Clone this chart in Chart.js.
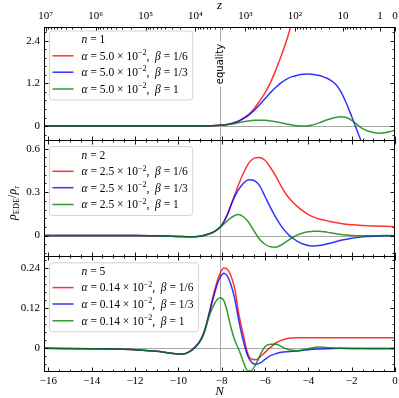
<!DOCTYPE html>
<html>
<head>
<meta charset="utf-8">
<title>EDE fraction</title>
<script src="https://cdn.jsdelivr.net/npm/chart.js@4.4.1/dist/chart.umd.min.js"></script>
<style>
  body { margin: 0; background: #fff; }
  #fig { position: relative; width: 399px; height: 398px; }
  #fig canvas { position: absolute; left: 0; }
</style>
</head>
<body>
<div id="fig">
  <canvas id="panel1" width="399" height="141" style="top:0px"></canvas>
  <canvas id="panel2" width="399" height="117" style="top:140px"></canvas>
  <canvas id="panel3" width="399" height="142" style="top:256px"></canvas>
</div>
<script>
var SERIF = '"Liberation Serif", "DejaVu Serif", serif';

// axes
var xMin = -16.2, xMax = 0;
var nEquality = -8.1;
var nTicks = [-16, -14, -12, -10, -8, -6, -4, -2, 0];
var zTicks = [1e7, 1e6, 1e5, 1e4, 1e3, 1e2, 10, 1, 0];
var zTickLabels = ['10⁷', '10⁶', '10⁵', '10⁴', '10³', '10²', '10', '1', '0'];

// legend text
var panelN = ['1', '2', '5'];
var panelAlpha = ['5.0', '2.5', '0.14'];
var betaLabels = ['1/6', '1/3', '1'];
var seriesColors = ['rgba(255,0,0,0.8)', 'rgba(0,0,255,0.8)', 'rgba(0,128,0,0.8)'];

// n = 1
var N1 = [-16.2,-14,-12,-10,-9,-8.5,-8.1,-7.75,-7.5,-7.25,-7,-6.75,-6.5,-6.25,-6,-5.75,-5.5,-5.25,-5,-4.75,-4.5,-4.25,-4,-3.75,-3.5,-3.25,-3,-2.75,-2.5,-2.25,-2,-1.75,-1.5,-1.25,-1,-0.75,-0.5,-0.25,0];
var n1Red = [0,0,0,0,0.002,0.008,0.02,0.045,0.08,0.13,0.22,0.33,0.49,0.7,0.93,1.22,1.58,1.98,2.42,2.93,3.5,4.2,null,null,null,null,null,null,null,null,null,null,null,null,null,null,null,null,null];
var n1Blue = [0,0,0,0,0.002,0.008,0.02,0.045,0.08,0.13,0.21,0.31,0.44,0.6,0.77,0.94,1.09,1.22,1.32,1.39,1.43,1.46,1.465,1.45,1.42,1.37,1.3,1.18,0.97,0.65,0.27,-0.13,-0.52,-0.9,null,null,null,null,null];
var n1Green = [0,0,0,0,0.001,0.005,0.02,0.04,0.06,0.09,0.12,0.145,0.16,0.165,0.16,0.145,0.12,0.09,0.06,0.03,0.01,0,0.01,0.04,0.09,0.15,0.2,0.24,0.26,0.24,0.16,0.04,-0.07,-0.14,-0.18,-0.2,-0.19,-0.16,-0.11];

// n = 2
var N2 = [-16.2,-14,-12,-11,-10,-9.5,-9,-8.75,-8.5,-8.25,-8,-7.75,-7.5,-7.25,-7,-6.75,-6.5,-6.25,-6,-5.75,-5.5,-5.25,-5,-4.75,-4.5,-4.25,-4,-3.75,-3.5,-3.25,-3,-2.5,-2,-1.5,-1,-0.5,0];
var n2Red = [0,0,0,-0.002,-0.006,-0.008,-0.004,0.004,0.016,0.036,0.07,0.14,0.24,0.34,0.43,0.5,0.535,0.54,0.52,0.47,0.41,0.34,0.28,0.235,0.2,0.17,0.145,0.127,0.114,0.105,0.097,0.083,0.074,0.069,0.066,0.064,0.063];
var n2Blue = [0,0,0,-0.002,-0.006,-0.008,-0.004,0.004,0.016,0.036,0.07,0.14,0.235,0.31,0.36,0.385,0.38,0.345,0.27,0.195,0.125,0.065,0.02,-0.015,-0.04,-0.058,-0.068,-0.072,-0.069,-0.062,-0.053,-0.033,-0.018,-0.009,-0.004,-0.002,-0.001];
var n2Green = [0,0,0,-0.002,-0.006,-0.008,-0.004,0.004,0.016,0.036,0.065,0.1,0.13,0.145,0.13,0.09,0.03,-0.025,-0.06,-0.078,-0.08,-0.065,-0.04,-0.015,0.005,0.018,0.026,0.03,0.03,0.026,0.02,0.008,0.001,-0.002,-0.001,0,0];

// n = 5
var N3 = [-16.2,-14,-13,-12,-11,-10.5,-10,-9.7,-9.4,-9.2,-9,-8.8,-8.6,-8.4,-8.2,-8.05,-7.9,-7.75,-7.6,-7.4,-7.2,-7,-6.8,-6.6,-6.4,-6.2,-6,-5.75,-5.5,-5.25,-5,-4.75,-4.5,-4.25,-4,-3.5,-3,-2.5,-2,-1,0];
var n3Red = [0,-0.001,-0.002,-0.004,-0.009,-0.013,-0.017,-0.016,-0.006,0.006,0.022,0.052,0.1,0.155,0.203,0.228,0.241,0.238,0.222,0.18,0.1,0.04,-0.015,-0.033,-0.034,-0.024,-0.012,0.003,0.016,0.024,0.029,0.031,0.032,0.032,0.032,0.032,0.032,0.032,0.032,0.032,0.032];
var n3Blue = [0,-0.001,-0.002,-0.004,-0.009,-0.013,-0.017,-0.016,-0.006,0.006,0.022,0.05,0.097,0.148,0.193,0.215,0.225,0.218,0.196,0.15,0.08,0.022,-0.022,-0.043,-0.048,-0.043,-0.033,-0.022,-0.016,-0.012,-0.01,-0.009,-0.008,-0.006,-0.004,-0.002,-0.001,0,0,-0.001,-0.001];
var n3Green = [0,-0.001,-0.002,-0.004,-0.009,-0.013,-0.017,-0.016,-0.007,0.004,0.02,0.047,0.092,0.125,0.147,0.152,0.143,0.112,0.07,0.025,-0.005,-0.04,-0.068,-0.065,-0.045,-0.017,0.005,0.012,0.012,0.006,-0.002,-0.006,-0.007,-0.005,-0.001,0.004,0.002,0,-0.001,0,0];

function pts(xs, ys) {
  var out = [];
  for (var i = 0; i < xs.length; i++) {
    if (ys[i] !== null) out.push({ x: xs[i], y: ys[i] });
  }
  return out;
}

function fmtNum(v) {
  if (Math.abs(v) < 1e-9) return '0';
  return v < 0 ? '\u2212' + Math.abs(v) : String(v);
}

// small rich-text helper for the math labels
function richRun(ctx, parts, x, y, size, draw) {
  parts.forEach(function(p) {
    var s = (p.sup || p.sub) ? size * 0.7 : size;
    ctx.font = (p.it ? 'italic ' : '') + s + 'px ' + SERIF;
    var dy = p.sup ? -size * 0.4 : (p.sub ? size * 0.28 : 0);
    if (draw) ctx.fillText(p.t, x, y + dy);
    x += ctx.measureText(p.t).width;
  });
  return x;
}

function roundRect(ctx, x, y, w, h, r) {
  ctx.beginPath();
  ctx.moveTo(x + r, y);
  ctx.arcTo(x + w, y, x + w, y + h, r);
  ctx.arcTo(x + w, y + h, x, y + h, r);
  ctx.arcTo(x, y + h, x, y, r);
  ctx.arcTo(x, y, x + w, y, r);
  ctx.closePath();
}

function drawLegend(ctx, a, cfg) {
  var size = 11.5;
  var top = a.top + cfg.legendTop;
  var textX = 81.5;
  var rowY = [25.3, 41.7, 58.5];
  var labels = betaLabels.map(function(b) {
    return [{ t: 'α', it: 1 }, { t: ' = ' + cfg.alpha + ' × 10' }, { t: '\u22122', sup: 1 },
            { t: ',  ' }, { t: 'β', it: 1 }, { t: ' = ' + b }];
  });
  var w = 0;
  labels.forEach(function(l) { w = Math.max(w, richRun(ctx, l, 0, 0, size, false)); });
  var left = 49.5, right = textX + w + 5;
  roundRect(ctx, left, top + 0.5, right - left, 69, 3);
  ctx.fillStyle = 'rgba(255,255,255,0.8)';
  ctx.fill();
  ctx.strokeStyle = '#d4d4d4';
  ctx.lineWidth = 1;
  ctx.stroke();
  ctx.fillStyle = '#000';
  ctx.textBaseline = 'alphabetic';
  ctx.textAlign = 'left';
  richRun(ctx, [{ t: 'n', it: 1 }, { t: ' = ' + cfg.n }], textX, top + 9 + 3.8, size, true);
  labels.forEach(function(l, i) {
    var y = top + rowY[i];
    ctx.strokeStyle = seriesColors[i];
    ctx.lineWidth = 1.5;
    ctx.beginPath(); ctx.moveTo(52.5, y); ctx.lineTo(73.5, y); ctx.stroke();
    ctx.fillStyle = '#000';
    richRun(ctx, l, textX, y + 3.8, size, true);
  });
}

function makeDeco(cfg) {
  function seg(ctx, x1, y1, x2, y2) {
    ctx.beginPath(); ctx.moveTo(x1, y1); ctx.lineTo(x2, y2); ctx.stroke();
  }
  return {
    id: 'deco',
    beforeDatasetsDraw: function(chart) {
      var ctx = chart.ctx, a = chart.chartArea;
      var xs = chart.scales.x, ys = chart.scales.y;
      ctx.save();
      ctx.strokeStyle = '#a8a8a8';
      ctx.lineWidth = 1;
      var py = Math.round(ys.getPixelForValue(0)) + 0.5;
      seg(ctx, a.left, py, a.right, py);
      var px = Math.round(xs.getPixelForValue(nEquality)) + 0.5;
      seg(ctx, px, a.top, px, a.bottom);
      if (cfg.equalityLabel) {
        ctx.translate(px, a.top + 37);
        ctx.rotate(-Math.PI / 2);
        ctx.font = '10px "DejaVu Sans"';
        ctx.textAlign = 'center';
        ctx.textBaseline = 'middle';
        var tw = ctx.measureText('equality').width;
        ctx.fillStyle = '#fff';
        ctx.fillRect(-tw / 2 - 2.5, -6, tw + 5, 12);
        ctx.fillStyle = '#000';
        ctx.fillText('equality', 0, 0);
      }
      ctx.restore();
    },
    afterDraw: function(chart) {
      var ctx = chart.ctx, a = chart.chartArea;
      var xs = chart.scales.x, ys = chart.scales.y;
      ctx.save();
      ctx.strokeStyle = '#000';
      ctx.lineWidth = 1;
      ctx.strokeRect(a.left + 0.5, a.top + 0.5, a.right - a.left - 1, a.bottom - a.top - 1);
      ctx.lineWidth = 0.9;
      // y ticks, inward, left and right
      var k0 = Math.ceil(cfg.yMin / cfg.yMinor - 1e-6), k1 = Math.floor(cfg.yMax / cfg.yMinor + 1e-6);
      for (var k = k0; k <= k1; k++) {
        var len = (k % 5 === 0) ? 4.5 : 2.5;
        var py = Math.round(ys.getPixelForValue(k * cfg.yMinor)) + 0.5;
        seg(ctx, a.left, py, a.left + len, py);
        seg(ctx, a.right, py, a.right - len, py);
      }
      // N ticks on bottom (and top unless z axis)
      for (k = -32; k <= 0; k++) {
        var v = k * 0.5;
        if (v < xMin) continue;
        len = (k % 4 === 0) ? 4.5 : 2.5;
        var px = Math.round(xs.getPixelForValue(v)) + 0.5;
        seg(ctx, px, a.bottom, px, a.bottom - len);
        if (!cfg.zAxis) seg(ctx, px, a.top, px, a.top + len);
      }
      if (cfg.zAxis) {
        zTicks.forEach(function(z) {
          var p = Math.round(xs.getPixelForValue(-Math.log(1 + z))) + 0.5;
          seg(ctx, p, a.top, p, a.top + 4.5);
        });
        for (var m = 0; m <= 6; m++) {
          for (var d = 2; d <= 9; d++) {
            var n = -Math.log(1 + d * Math.pow(10, m));
            if (n < xMin) continue;
            var p2 = Math.round(xs.getPixelForValue(n)) + 0.5;
            seg(ctx, p2, a.top, p2, a.top + 2.5);
          }
        }
      }
      drawLegend(ctx, a, cfg);
      if (cfg.yTitle) {
        ctx.translate(16, a.top + 63);
        ctx.rotate(-Math.PI / 2);
        ctx.fillStyle = '#000';
        ctx.textBaseline = 'alphabetic';
        var parts = [{ t: 'ρ', it: 1 }, { t: 'EDE', sub: 1 }, { t: '/' }, { t: 'ρ', it: 1 }, { t: 'r', sub: 1 }];
        var w = richRun(ctx, parts, 0, 0, 12, false);
        richRun(ctx, parts, -w / 2, 0, 12, true);
      }
      ctx.restore();
    }
  };
}

function makePanel(cfg) {
  var tickFont = { family: SERIF, size: 11 };
  var scales = {
    x: {
      type: 'linear', position: 'bottom', min: xMin, max: xMax, display: !!cfg.bottomAxis,
      grid: { display: false, drawTicks: false }, border: { display: false },
      afterBuildTicks: function(s) { s.ticks = nTicks.map(function(v) { return { value: v }; }); },
      ticks: { autoSkip: false, maxRotation: 0, padding: 2.5, color: '#000', font: tickFont,
               callback: function(v) { return fmtNum(v); } },
      title: { display: !!cfg.bottomAxis, text: 'N', color: '#000',
               font: { family: SERIF, size: 13, style: 'italic' }, padding: { top: 0, bottom: -1 } },
      afterFit: function(s) { s.height = cfg.bottomAxis ? 26 : 0; s.paddingLeft = 0; s.paddingRight = 0; }
    },
    y: {
      type: 'linear', position: 'left', min: cfg.yMin, max: cfg.yMax,
      grid: { display: false, drawTicks: false }, border: { display: false },
      afterBuildTicks: function(s) { s.ticks = cfg.yTicks.map(function(v) { return { value: v }; }); },
      ticks: { padding: 4, color: '#000', font: tickFont, callback: function(v) { return fmtNum(v); } },
      afterFit: function(s) { s.width = 44; s.paddingTop = 0; s.paddingBottom = 0; }
    }
  };
  if (cfg.zAxis) {
    scales.xt = {
      type: 'linear', position: 'top', min: xMin, max: xMax,
      grid: { display: false, drawTicks: false }, border: { display: false },
      afterBuildTicks: function(s) { s.ticks = zTicks.map(function(z) { return { value: -Math.log(1 + z) }; }); },
      ticks: { autoSkip: false, maxRotation: 0, padding: 4.5, color: '#000', font: tickFont,
               callback: function(v, i) { return zTickLabels[i]; } },
      title: { display: true, text: 'z', color: '#000',
               font: { family: SERIF, size: 13, style: 'italic' }, padding: { top: -2.5, bottom: 0 } },
      afterFit: function(s) { s.height = 27; s.paddingLeft = 0; s.paddingRight = 0; }
    };
  }
  return new Chart(document.getElementById(cfg.id), {
    type: 'line',
    data: {
      datasets: cfg.series.map(function(vals, i) {
        return {
          label: 'β = ' + betaLabels[i],
          data: pts(cfg.N, vals),
          borderColor: seriesColors[i],
          borderWidth: 1.5,
          pointRadius: 0,
          fill: false,
          cubicInterpolationMode: 'monotone',
          clip: 0,
          order: 2 - i
        };
      })
    },
    options: {
      responsive: false,
      animation: false,
      devicePixelRatio: 1,
      events: [],
      layout: { padding: { left: 0, right: 4, top: 0, bottom: 0 } },
      plugins: { legend: { display: false }, tooltip: { enabled: false } },
      scales: scales
    },
    plugins: [makeDeco(cfg)]
  });
}

makePanel({
  id: 'panel1', N: N1, series: [n1Red, n1Blue, n1Green],
  yMin: -0.42, yMax: 2.785, yTicks: [0, 1.2, 2.4], yMinor: 0.24,
  zAxis: true, equalityLabel: true, legendTop: 3.5, n: panelN[0], alpha: panelAlpha[0]
});
makePanel({
  id: 'panel2', N: N2, series: [n2Red, n2Blue, n2Green],
  yMin: -0.148, yMax: 0.66, yTicks: [0, 0.3, 0.6], yMinor: 0.06,
  yTitle: true, legendTop: 6, n: panelN[1], alpha: panelAlpha[1]
});
makePanel({
  id: 'panel3', N: N3, series: [n3Red, n3Blue, n3Green],
  yMin: -0.071, yMax: 0.277, yTicks: [0, 0.12, 0.24], yMinor: 0.024,
  bottomAxis: true, legendTop: 6.3, n: panelN[2], alpha: panelAlpha[2]
});
</script>
</body>
</html>
